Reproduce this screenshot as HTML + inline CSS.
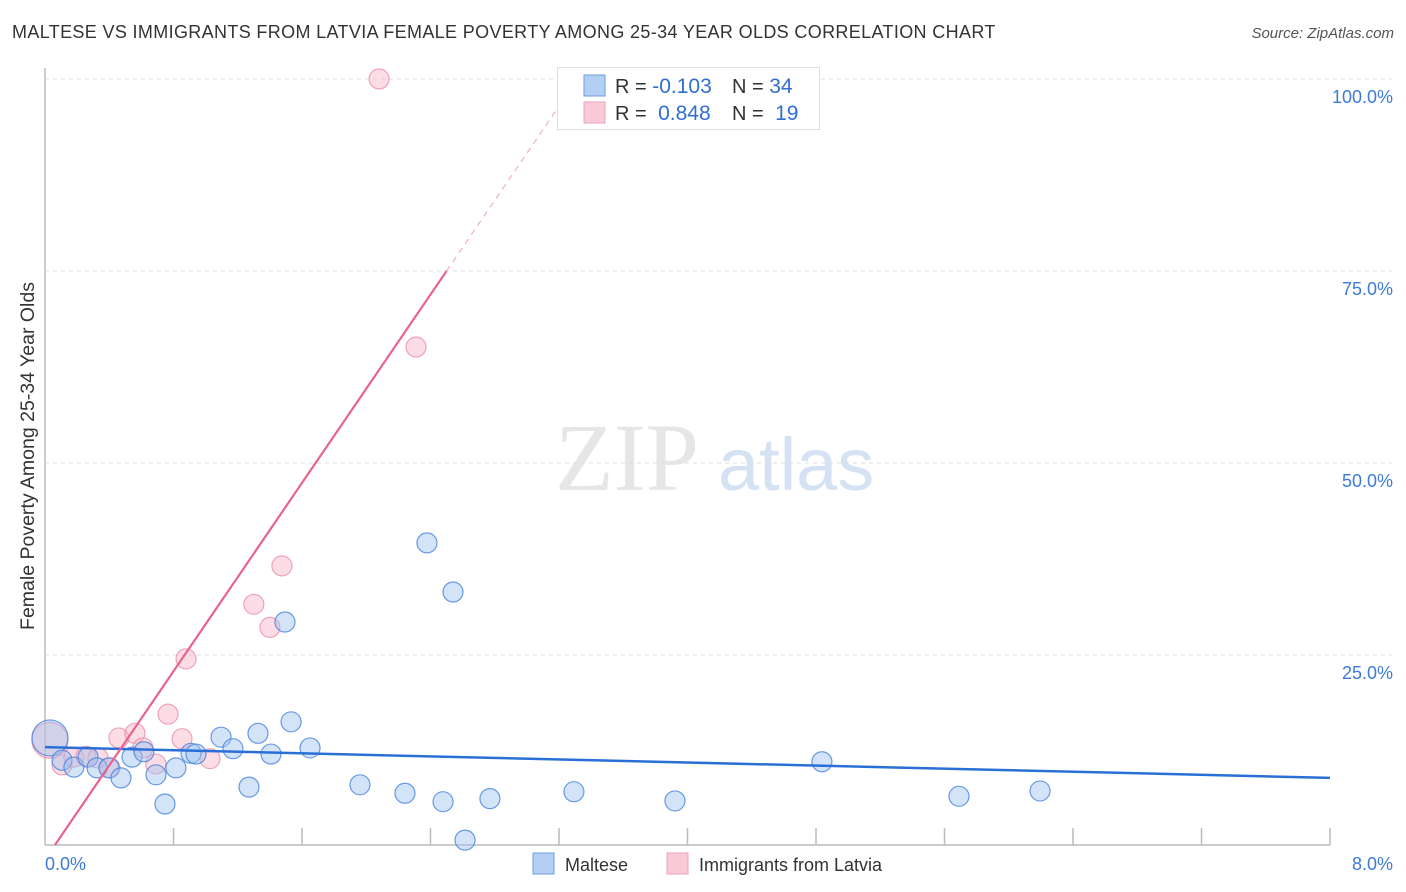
<!DOCTYPE html>
<html><head><meta charset="utf-8">
<style>
body{margin:0;background:#fff;font-family:"Liberation Sans",sans-serif;}
#wrap{position:relative;width:1406px;height:892px;overflow:hidden;}
.t{position:absolute;white-space:nowrap;}
</style></head>
<body>
<div id="wrap">
<div class="t" style="left:12px;top:22px;font-size:18px;letter-spacing:0.35px;color:#333;">MALTESE VS IMMIGRANTS FROM LATVIA FEMALE POVERTY AMONG 25-34 YEAR OLDS CORRELATION CHART</div>
<div class="t" style="right:12px;top:25px;font-size:15px;color:#555;font-style:italic;">Source: ZipAtlas.com</div>
<svg id="svg" width="1406" height="892" style="position:absolute;left:0;top:0"></svg>
</div>
<script>
const blueX=[0.031,0.106,0.18,0.268,0.324,0.398,0.473,0.542,0.616,0.691,0.747,0.815,0.909,0.94,1.096,1.17,1.27,1.326,1.407,1.494,1.532,1.65,1.961,2.241,2.378,2.478,2.54,2.615,2.77,3.293,3.922,4.837,5.69,6.195];
const blueY=[14.2,11.3,10.4,11.7,10.3,10.3,9.0,11.7,12.4,9.4,5.6,10.3,12.2,12.1,14.3,12.8,7.8,14.8,12.1,29.3,16.3,12.9,8.1,7.0,39.6,5.9,33.2,0.9,6.3,7.2,6.0,11.1,6.6,7.3];
const pinkX=[0.03,0.106,0.18,0.255,0.33,0.405,0.46,0.56,0.61,0.69,0.766,0.853,0.878,1.027,1.3,1.4,1.475,2.31,2.08];
const pinkY=[13.9,10.7,11.7,11.8,11.6,10.3,14.2,14.8,12.9,10.8,17.3,14.1,24.5,11.5,31.6,28.6,36.6,65.1,100];
const yTicks=[25,50,75,100];
const yTickLabels=["25.0%","50.0%","75.0%","100.0%"];
const blueTrend=[[0,13.0],[8,9.0]];
const pinkSolid=[[0.062,0.26],[2.5,75]];
const pinkDash=[[2.5,75],[3.315,100]];

const svg=document.getElementById('svg');
const NS='http://www.w3.org/2000/svg';
const X=v=>45+v/8*1285, Y=v=>847-v*7.68;
function mk(tag,attrs,parent){const e=document.createElementNS(NS,tag);for(const k in attrs)e.setAttribute(k,attrs[k]);(parent||svg).appendChild(e);return e;}

let wm=mk('text',{x:555,y:490,'font-size':96,fill:'#e6e6e6','font-family':'Liberation Serif, serif'});wm.textContent='ZIP';


let wm2=mk('text',{x:718,y:490,'font-size':74,fill:'#d4e2f3','font-family':'Liberation Sans, sans-serif'});wm2.textContent='atlas';



yTicks.forEach((t,i)=>{
 const g=mk('line',{x1:45,x2:1392,y1:Y(t),y2:Y(t),stroke:'#ddd','stroke-dasharray':'4,4'});
 
 
 const l=mk('text',{x:1393,y:Y(t)+24,'text-anchor':'end','font-size':18,fill:'#3d7bd6'});
 l.textContent=yTickLabels[i];
 
 
});
let ax=mk('line',{x1:45,x2:1330,y1:845,y2:845,stroke:'#bbb','stroke-width':1.5});


let ay=mk('line',{x1:45,x2:45,y1:68,y2:845,stroke:'#bbb','stroke-width':1.5});


for(let i=1;i<=10;i++){
 const tk=mk('line',{x1:X(i*0.8),x2:X(i*0.8),y1:828,y2:845,stroke:'#bbb','stroke-width':1.5});
 
 
}
let xl0=mk('text',{x:45,y:870,'font-size':18,fill:'#3d7bd6'});xl0.textContent='0.0%';


let xl1=mk('text',{x:1393,y:870,'text-anchor':'end','font-size':18,fill:'#3d7bd6'});xl1.textContent='8.0%';


let yt=mk('text',{x:0,y:0,'font-size':19.5,fill:'#333',transform:'translate(34,456) rotate(-90)','text-anchor':'middle'});yt.textContent='Female Poverty Among 25-34 Year Olds';



function pts(xs,ys,fill,stroke,name){
 xs.forEach((x,i)=>{
  const r=(i===0)?18:10;
  const c=mk('circle',{cx:X(x),cy:Y(ys[i]),r:r,fill:fill,stroke:stroke,'stroke-width':1.2});
  
  
 });
}
pts(pinkX,pinkY,'rgba(248,180,200,0.45)','rgba(232,130,160,0.7)','point-latvia');
pts(blueX,blueY,'rgba(160,195,240,0.45)','rgba(70,130,220,0.8)','point-maltese');

let bt=mk('line',{x1:X(blueTrend[0][0]),y1:Y(blueTrend[0][1]),x2:X(blueTrend[1][0]),y2:Y(blueTrend[1][1]),stroke:'#2a6fd6','stroke-width':2.5});


let ps=mk('line',{x1:X(pinkSolid[0][0]),y1:Y(pinkSolid[0][1]),x2:X(pinkSolid[1][0]),y2:Y(pinkSolid[1][1]),stroke:'#e8638f','stroke-width':2.2});


let pd=mk('line',{x1:X(pinkDash[0][0]),y1:Y(pinkDash[0][1]),x2:X(pinkDash[1][0]),y2:Y(pinkDash[1][1]),stroke:'#eeb0c4','stroke-width':1.2,'stroke-dasharray':'6,5'});



let lb=mk('rect',{x:557.5,y:67.5,width:262,height:62,fill:'#fff',stroke:'#ddd'});


const rows=[['rgba(160,195,240,0.8)','#6d9de0','-0.103','34'],['rgba(248,190,208,0.8)','#eca0b8',' 0.848',' 19']];
rows.forEach((r,i)=>{
 const y=75+i*27;
 const s=mk('rect',{x:584,y:y,width:21,height:21,fill:r[0],stroke:r[1]});
 
 
 const t=mk('text',{x:615,y:y+18,'font-size':20,fill:'#333','xml:space':'preserve'});
 
 
 t.innerHTML='R = <tspan fill="#2f6fd2" font-size="21">'+r[2].replace(' ','&#160;')+'</tspan><tspan x="732">N = </tspan><tspan fill="#2f6fd2" font-size="21">'+r[3].replace(' ','&#160;')+'</tspan>';
});

[['Maltese',533,'rgba(160,195,240,0.8)','#6d9de0'],['Immigrants from Latvia',667,'rgba(248,190,208,0.8)','#eca0b8']].forEach(l=>{
 const s=mk('rect',{x:l[1],y:853,width:21,height:21,fill:l[2],stroke:l[3]});
 
 
 const t=mk('text',{x:l[1]+32,y:871,'font-size':18,fill:'#333'});t.textContent=l[0];
 
 
});
</script>
</body></html>
